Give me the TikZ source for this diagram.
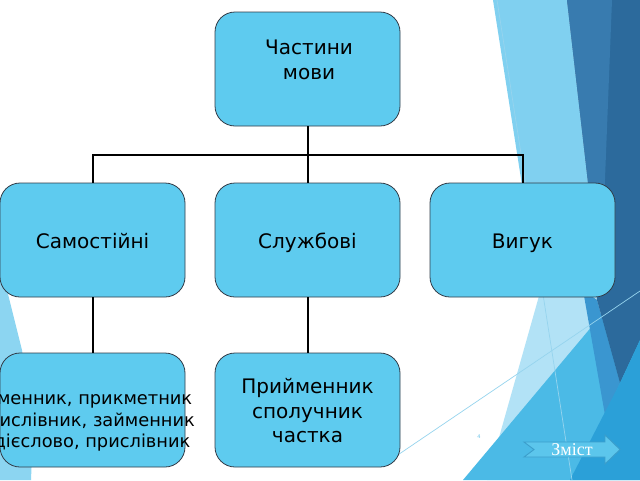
\documentclass[tikz,border=0pt]{standalone}
\usepackage{fontspec}
\setmainfont{DejaVu Sans}
\newfontfamily\btnfont{Liberation Serif}
\definecolor{boxfill}{RGB}{94,203,239}
\definecolor{boxline}{RGB}{50,60,72}
\definecolor{bgA}{RGB}{128,208,240}
\definecolor{bgE}{RGB}{178,226,246}
\definecolor{bgC}{RGB}{75,186,230}
\definecolor{bgDark}{RGB}{44,106,156}
\definecolor{bgDarkL}{RGB}{56,123,175}
\definecolor{bgD}{RGB}{43,160,216}
\definecolor{bgM}{RGB}{58,150,208}
\definecolor{bgLeft}{RGB}{140,213,241}
\definecolor{thinline}{RGB}{150,212,238}
\definecolor{btnfill}{RGB}{92,198,236}
\definecolor{btnline}{RGB}{60,158,203}
\definecolor{numblue}{RGB}{105,195,232}
\begin{document}
\begin{tikzpicture}[x=1pt,y=-1pt,
  box/.style={draw=boxline, line width=0.8pt, fill=boxfill, rounded corners=20pt,
    minimum width=185pt, minimum height=114pt, inner sep=0pt},
  txt/.style={align=center, text=black, inner sep=0pt, font=\fontsize{20}{24.5}\selectfont},
  smalltxt/.style={align=center, text=black, inner sep=0pt, font=\fontsize{17.8}{21.5}\selectfont},
  conn/.style={draw=black, line width=2pt},
  bgline/.style={draw=thinline, line width=0.7pt}]
\useasboundingbox (0,0) rectangle (640,480);
\clip (0,0) rectangle (640,480);
\fill[white] (0,0) rectangle (640,480);
% background decoration
\fill[bgLeft] (0,262) -- (22,350) -- (33,430) -- (31,480) -- (0,480) -- cycle;
\fill[bgA] (493,0) -- (567,0) -- (590,200) -- (597,300) -- (620,383) -- (570,480) -- (560,330) -- (540,300) -- cycle;
\fill[bgE] (552,250) -- (600,300) -- (600,480) -- (487,480) -- cycle;
\fill[bgC] (463,480) -- (640,269) -- (640,480) -- cycle;
\fill[bgM] (583,290) -- (597,300) -- (620,383) -- (605,415) -- cycle;
\fill[bgDark] (567,0) -- (640,0) -- (640,340) -- (620,383) -- (597,300) -- (590,200) -- cycle;
\fill[bgDarkL] (567,0) -- (612,0) -- (603,230) -- (590,200) -- cycle;
\fill[bgD] (570,480) -- (620,383) -- (640,340) -- (640,480) -- cycle;
\draw[bgline] (497,0) -- (572,480);
\draw[bgline] (380,467) -- (640,291);
% connectors
\coordinate (bus) at (307.5,155);
% boxes
\node[box] (top) at (307.5,69) {};
\node[txt] (toptext) at (309,60) {Частини\\мови};
\node[box] (sam) at (92.5,240) {};
\node[txt, anchor=base] (samtext) at (92.5,248) {Самостійні};
\node[box] (sl) at (307.5,240) {};
\node[txt, anchor=base] (sltext) at (307.5,248) {Службові};
\node[box] (vyh) at (522.5,240) {};
\node[txt, anchor=base] (vyhtext) at (522.5,248) {Вигук};
\node[box] (ind) at (92.5,410) {};
\node[smalltxt] (indtext) at (92,421.5) {Іменник, прикметник\\числівник, займенник\\дієслово, прислівник};
\node[box] (prep) at (307.5,410) {};
\node[txt] (preptext) at (307.5,411) {Прийменник\\сполучник\\частка};
\draw[conn] (top.south) -- (bus);
\draw[conn] (bus) -| (sam.north);
\draw[conn] (bus) -| (vyh.north);
\draw[conn] (bus) -- (sl.north);
\draw[conn] (sam.south) -- (ind.north);
\draw[conn] (sl.south) -- (prep.north);
% slide number and button
\node[font=\fontsize{5}{6}\selectfont, text=numblue, inner sep=0pt] (num) at (479,437) {4};
\draw[fill=btnfill, draw=btnline, line width=0.9pt]
  (524,442) -- (605,442) -- (605,435) -- (620,449.5) -- (605,464) -- (605,457) -- (524,457) -- (534,449.5) -- cycle;
\node[font=\btnfont\fontsize{18}{19}\selectfont, text=white, inner sep=0pt] (zmist) at (572,449.5) {Зміст};
\end{tikzpicture}
\end{document}
